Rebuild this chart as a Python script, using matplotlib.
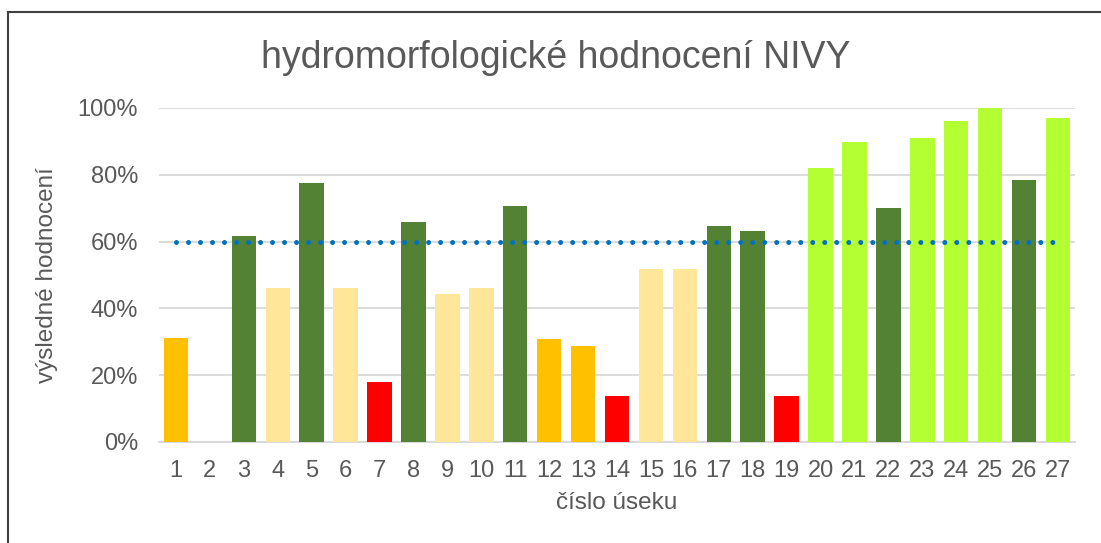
import matplotlib
matplotlib.use("Agg")
import matplotlib.pyplot as plt
from matplotlib.ticker import PercentFormatter
from matplotlib.lines import Line2D

plt.rcParams['font.family'] = ['Liberation Sans', 'DejaVu Sans']

# --- data ---
sections = [str(i) for i in range(1, 28)]
values = [0.31, 0.0, 0.616, 0.461, 0.775, 0.461, 0.18, 0.658, 0.443, 0.462,
          0.706, 0.307, 0.288, 0.138, 0.519, 0.519, 0.648, 0.633, 0.138,
          0.82, 0.899, 0.702, 0.909, 0.96, 1.0, 0.785, 0.97]
classes = ['o', 'o', 'g', 'y', 'g', 'y', 'r', 'g', 'y', 'y',
           'g', 'o', 'o', 'r', 'y', 'y', 'g', 'g', 'r',
           'l', 'l', 'g', 'l', 'l', 'l', 'g', 'l']
class_colors = {'o': '#FFC000', 'y': '#FFE699', 'g': '#548235',
                'r': '#FF0000', 'l': '#B3FF33'}
threshold = 0.60
yticks = [0, 0.2, 0.4, 0.6, 0.8, 1.0]

title = 'hydromorfologické hodnocení NIVY'
xlabel = 'číslo úseku'
ylabel = 'výsledné hodnocení'

text_color = '#595959'
grid_color = '#D9D9D9'

fig = plt.figure(figsize=(11.01, 5.43), dpi=100)
ax = fig.add_axes([159/1101, 1 - 442/543, (1075 - 159)/1101, (442 - 108)/543])

x = list(range(len(sections)))
colors = [class_colors[c] for c in classes]
ax.bar(x, values, width=0.72, color=colors, zorder=3)

ax.plot([x[0], x[-1]], [threshold, threshold], color='#0070C0',
        linewidth=3.6, linestyle=(0, (0.001, 2.4)), dash_capstyle='round', zorder=4)

ax.set_xlim(-0.5, len(sections) - 0.5)
ax.set_ylim(0, 1.0)
ax.set_yticks(yticks)
ax.yaxis.set_major_formatter(PercentFormatter(1.0, decimals=0))
ax.set_xticks(x)
ax.set_xticklabels(sections)

ax.grid(axis='y', color=grid_color, linewidth=1.3, zorder=0)
ax.set_axisbelow(True)
for s in ['top', 'right', 'left']:
    ax.spines[s].set_visible(False)
ax.spines['bottom'].set_color(grid_color)
ax.spines['bottom'].set_linewidth(1.5)
ax.tick_params(axis='both', length=0, labelsize=17, labelcolor=text_color)
ax.tick_params(axis='x', pad=13)
ax.tick_params(axis='y', pad=15)

ax.set_xlabel(xlabel, fontsize=17.5, color=text_color, labelpad=7)
ax.set_ylabel(ylabel, fontsize=17.5, color=text_color, labelpad=14)

fig.text(0.505, 1 - 58/543, title, ha='center', va='center', fontsize=27, color=text_color)

# figure border (left and top visible)
fig.add_artist(Line2D([8/1101, 8/1101], [0, 1 - 12/543], color='#404040', linewidth=1.5,
                      transform=fig.transFigure))
fig.add_artist(Line2D([8/1101, 1], [1 - 12/543, 1 - 12/543], color='#404040', linewidth=1.5,
                      transform=fig.transFigure))

fig.savefig('out.png', dpi=100)
